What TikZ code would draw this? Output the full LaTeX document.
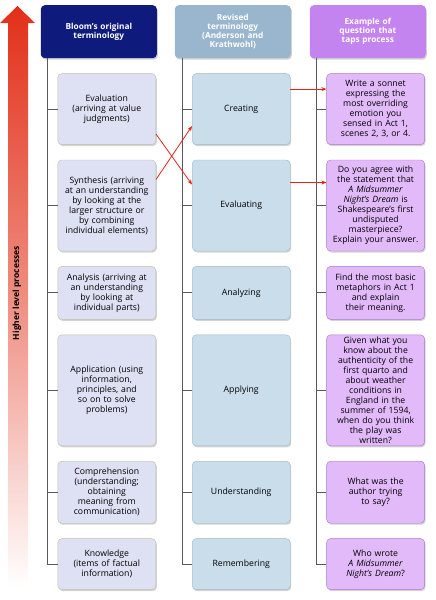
\documentclass[tikz,border=0pt]{standalone}
\usepackage{fontspec}
\setmainfont{Open Sans}
\usepackage{xcolor}
\usetikzlibrary{positioning,shadows,arrows.meta}
\definecolor{bloomnavy}{RGB}{14,27,124}
\definecolor{revblue}{RGB}{154,182,207}
\definecolor{exviolet}{RGB}{196,132,240}
\definecolor{bloomfill}{RGB}{222,225,244}
\definecolor{bloomline}{RGB}{190,190,165}
\definecolor{revfill}{RGB}{202,221,234}
\definecolor{revline}{RGB}{158,182,198}
\definecolor{exfill}{RGB}{226,186,250}
\definecolor{exline}{RGB}{168,120,200}
\definecolor{levelred}{RGB}{226,48,24}
\definecolor{crossred}{RGB}{232,34,24}

\begin{document}
\begin{tikzpicture}[
    x=1pt, y=-1pt,
    node distance=15pt and 36pt,
    box/.style={rectangle, draw, rounded corners=4pt, minimum width=98pt, text width=94pt, inner sep=2pt, align=center, font=\fontsize{8.7}{10}\selectfont, drop shadow={shadow xshift=1pt, shadow yshift=-1.5pt, opacity=0.35}},
    hdr/.style={rectangle, rounded corners=4pt, minimum width=116pt, minimum height=53pt, text width=110pt, inner sep=3pt, align=center, text=white, font=\fontsize{8.3}{9}\selectfont\bfseries, drop shadow={shadow xshift=1pt, shadow yshift=-1.5pt, opacity=0.35}},
    bloom/.style={box, fill=bloomfill, draw=bloomline},
    rev/.style={box, fill=revfill, draw=revline},
    ex/.style={box, fill=exfill, draw=exline},
    tree/.style={draw=black!65, line width=0.9pt},
    arrow/.style={-{Stealth[length=5pt,width=4pt]}, draw=crossred, line width=0.8pt}
]
    \useasboundingbox (0,0) rectangle (436,600);

    % Level arrow
    \shade[top color=levelred, bottom color=white, middle color=levelred!55] (17.5,6) -- (35,23) -- (28,23) -- (28,588) -- (8,588) -- (8,23) -- (0,23) -- cycle;
    \node[rotate=90, font=\fontsize{8.5}{10}\selectfont\bfseries] (level) at (17,293) {Higher level processes};

    % Headers
    \node[hdr, fill=bloomnavy, anchor=north east] (b0) at (157,5) {Bloom’s original\\terminology};
    \node[hdr, fill=revblue, anchor=north east] (r0) at (291,5) {Revised\\terminology\\(Anderson and\\Krathwohl)};
    \node[hdr, fill=exviolet, anchor=north east] (e0) at (426,5) {Example of\\question that\\taps process};

    % Bloom's column
    \node[bloom, minimum height=71pt, below=15pt of b0.south east, anchor=north east, xshift=-1pt] (b1) {Evaluation\\(arriving at value\\judgments)};
    \node[bloom, minimum height=91pt, below=of b1] (b2) {Synthesis (arriving\\at an understanding\\by looking at the\\larger structure or\\by combining\\individual elements)};
    \node[bloom, minimum height=53pt, below=of b2] (b3) {Analysis (arriving at\\an understanding\\by looking at\\individual parts)};
    \node[bloom, minimum height=111pt, below=of b3] (b4) {Application (using\\information,\\principles, and\\so on to solve\\problems)};
    \node[bloom, minimum height=62pt, below=of b4] (b5) {Comprehension\\(understanding;\\obtaining\\meaning from\\communication)};
    \node[bloom, minimum height=51pt, below=of b5] (b6) {Knowledge\\(items of factual\\information)};

    % Revised column
    \node[rev, minimum height=71pt, right=of b1] (r1) {Creating};
    \node[rev, minimum height=91pt, right=of b2] (r2) {Evaluating};
    \node[rev, minimum height=53pt, right=of b3] (r3) {Analyzing};
    \node[rev, minimum height=111pt, right=of b4] (r4) {Applying};
    \node[rev, minimum height=62pt, right=of b5] (r5) {Understanding};
    \node[rev, minimum height=51pt, right=of b6] (r6) {Remembering};

    % Example column
    \node[ex, minimum height=71pt, right=of r1] (e1) {Write a sonnet\\expressing the\\most overriding\\emotion you\\sensed in Act 1,\\scenes 2, 3, or 4.};
    \node[ex, minimum height=91pt, right=of r2] (e2) {Do you agree with\\the statement that\\\textit{A Midsummer}\\\textit{Night’s Dream} is\\Shakespeare’s first\\undisputed\\masterpiece?\\Explain your answer.};
    \node[ex, minimum height=53pt, right=of r3] (e3) {Find the most basic\\metaphors in Act 1\\and explain\\their meaning.};
    \node[ex, minimum height=111pt, right=of r4] (e4) {Given what you\\know about the\\authenticity of the\\first quarto and\\about weather\\conditions in\\England in the\\summer of 1594,\\when do you think\\the play was\\written?};
    \node[ex, minimum height=62pt, right=of r5] (e5) {What was the\\author trying\\to say?};
    \node[ex, minimum height=51pt, right=of r6] (e6) {Who wrote\\\textit{A Midsummer}\\\textit{Night’s Dream}?};

    % Tree lines
    \foreach \c in {b,r,e} {
        \draw[tree] ([xshift=-10pt]\c1.west |- \c0.south) |- (\c6.west);
        \foreach \i in {1,...,5}
            \draw[tree] (\c\i.west) -- ++(-10,0);
    }

    % Arrows
    \draw[arrow] ([yshift=20pt]r1.east) -- ([yshift=20pt]e1.west);
    \draw[arrow] ([yshift=23pt]r2.east) -- ([yshift=23pt]e2.west);
    \draw[arrow] ([yshift=-25pt]b1.east) -- ([yshift=21pt]r2.west);
    \draw[arrow] ([yshift=26pt]b2.east) -- ([yshift=-17pt]r1.west);

\end{tikzpicture}
\end{document}
